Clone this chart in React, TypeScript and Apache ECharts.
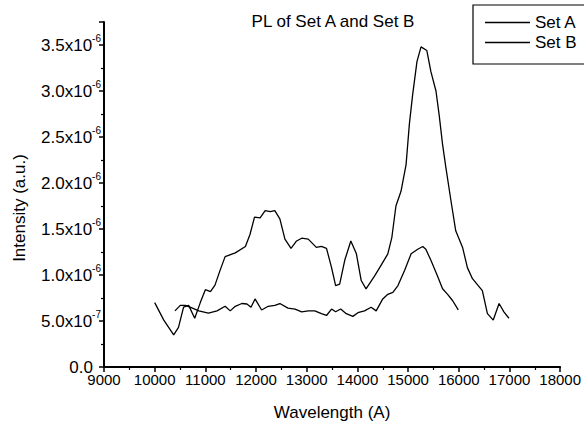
import React, { useEffect, useRef } from "react";
import * as echarts from "echarts";

const setAWavelength = [
  10000, 10180, 10375, 10470, 10570, 10670, 10790, 10900, 11000, 11100, 11190, 11290, 11390, 11590,
  11790, 11880, 11970, 12080, 12180, 12280, 12370, 12470, 12570, 12690, 12800, 12900, 13030, 13190,
  13290, 13390, 13490, 13570, 13650, 13750, 13870, 13980, 14075, 14170, 14340, 14460, 14600, 14680,
  14760, 14860, 14960, 15025, 15090, 15175, 15255, 15370, 15450, 15550, 15615, 15680, 15745, 15845,
  15940, 16075, 16170, 16270, 16465, 16565, 16680, 16795, 16890, 16990,
];
const setAIntensity = [
  7.0e-7, 5.1e-7, 3.5e-7, 4.3e-7, 6.5e-7, 6.7e-7, 5.3e-7, 7.0e-7, 8.4e-7, 8.2e-7, 8.9e-7, 1.05e-6, 1.2e-6, 1.24e-6,
  1.31e-6, 1.44e-6, 1.63e-6, 1.62e-6, 1.7e-6, 1.69e-6, 1.7e-6, 1.61e-6, 1.39e-6, 1.29e-6, 1.37e-6, 1.4e-6, 1.39e-6, 1.3e-6,
  1.31e-6, 1.29e-6, 1.08e-6, 8.85e-7, 9.0e-7, 1.16e-6, 1.37e-6, 1.23e-6, 9.4e-7, 8.5e-7, 9.9e-7, 1.1e-6, 1.23e-6, 1.41e-6,
  1.75e-6, 1.91e-6, 2.2e-6, 2.64e-6, 2.96e-6, 3.32e-6, 3.48e-6, 3.44e-6, 3.21e-6, 3.0e-6, 2.73e-6, 2.42e-6, 2.17e-6, 1.81e-6,
  1.48e-6, 1.3e-6, 1.08e-6, 9.6e-7, 8.3e-7, 5.8e-7, 5.1e-7, 6.9e-7, 6.0e-7, 5.3e-7,
];

const setBWavelength = [
  10400, 10505, 10605, 10700, 10870, 11060, 11230, 11390, 11490, 11590, 11720, 11820, 11900, 11980,
  12110, 12240, 12370, 12470, 12630, 12770, 12900, 13030, 13160, 13290, 13390, 13490, 13570, 13670,
  13780, 13910, 14010, 14140, 14270, 14370, 14500, 14600, 14700, 14800, 14930, 15060, 15190, 15290,
  15350, 15450, 15580, 15680, 15780, 15880, 15990,
];
const setBIntensity = [
  6.1e-7, 6.7e-7, 6.7e-7, 6.5e-7, 6.1e-7, 5.85e-7, 6.1e-7, 6.6e-7, 6.1e-7, 6.6e-7, 6.9e-7, 6.85e-7, 6.5e-7, 7.4e-7,
  6.2e-7, 6.6e-7, 6.7e-7, 6.9e-7, 6.4e-7, 6.3e-7, 6.0e-7, 6.1e-7, 6.1e-7, 5.8e-7, 5.6e-7, 6.3e-7, 6.0e-7, 6.3e-7,
  5.8e-7, 5.5e-7, 5.9e-7, 6.1e-7, 6.5e-7, 6.1e-7, 7.4e-7, 7.9e-7, 8.1e-7, 8.85e-7, 1.05e-6, 1.23e-6, 1.28e-6, 1.31e-6,
  1.28e-6, 1.16e-6, 9.9e-7, 8.5e-7, 7.9e-7, 7.2e-7, 6.2e-7,
];

const seriesNames = ["Set A", "Set B"];
const titleText = "PL of Set A and Set B";
const xAxisName = "Wavelength (A)";
const yAxisName = "Intensity (a.u.)";

const FONT = "'Liberation Sans', Arial, Helvetica, sans-serif";

function yLabel(v: number): string {
  if (v === 0) return "{a|0.0}{p| }";
  const step = 5e-7;
  if (Math.abs(v / step - Math.round(v / step)) > 1e-6) return "";
  const exp = Math.floor(Math.log10(v) + 1e-9);
  const mant = v / Math.pow(10, exp);
  return `{a|${mant.toFixed(1)}x10}{s|${exp}}`;
}

export default function App() {
  const ref = useRef<HTMLDivElement>(null);
  useEffect(() => {
    const chart = echarts.init(ref.current!, null, { renderer: "svg" });
    const dataA = setAWavelength.map((w, i) => [w, setAIntensity[i]]);
    const dataB = setBWavelength.map((w, i) => [w, setBIntensity[i]]);
    chart.setOption({
      animation: false,
      backgroundColor: "#fff",
      textStyle: { fontFamily: FONT, color: "#000" },
      title: {
        text: titleText,
        left: 333,
        top: 13,
        padding: 0,
        textAlign: "center",
        textStyle: { fontSize: 17, fontWeight: "normal", color: "#000", fontFamily: FONT },
      },
      legend: {
        data: seriesNames,
        orient: "vertical",
        left: 485,
        top: 14,
        padding: 0,
        itemGap: 3,
        itemWidth: 45,
        itemHeight: 1.5,
        icon: "rect",
        itemStyle: { color: "#000" },
        textStyle: { fontSize: 17, color: "#000", fontFamily: FONT, lineHeight: 17 },
      },
      grid: { left: 104, right: 21, top: 22, height: 348 },
      xAxis: {
        type: "value",
        min: 9000,
        max: 18000,
        interval: 1000,
        name: xAxisName,
        nameLocation: "middle",
        nameGap: 37,
        nameTextStyle: { fontSize: 17, color: "#000", fontFamily: FONT },
        axisLine: { lineStyle: { color: "#000", width: 2 } },
        axisTick: { length: 5, lineStyle: { color: "#000", width: 1.5 } },
        minorTick: { show: true, splitNumber: 2, length: 3, lineStyle: { color: "#000", width: 1.2 } },
        splitLine: { show: false },
        axisLabel: {
          fontSize: 15,
          lineHeight: 12,
          color: "#000",
          margin: 6,
          fontFamily: FONT,
          formatter: (v: number) => String(v),
        },
      },
      yAxis: {
        type: "value",
        min: 0,
        max: 3.75e-6,
        interval: 5e-7,
        axisLine: { show: true, lineStyle: { color: "#000", width: 2 } },
        axisTick: { show: true, length: 5, lineStyle: { color: "#000", width: 1.5 } },
        minorTick: { show: true, splitNumber: 2, length: 3, lineStyle: { color: "#000", width: 1.2 } },
        splitLine: { show: false },
        axisLabel: {
          margin: 3,
          color: "#000",
          formatter: (v: number) => yLabel(v),
          rich: {
            a: { fontSize: 17, color: "#000", fontFamily: FONT, lineHeight: 12, verticalAlign: "middle" },
            s: { fontSize: 10, color: "#000", fontFamily: FONT, lineHeight: 8, verticalAlign: "top", padding: [-6, 0, 0, 0] },
            p: { fontSize: 10, width: 8, lineHeight: 8 },
          },
        },
      },
      graphic: [
        {
          type: "rect",
          shape: { x: 473, y: 5, width: 130, height: 59 },
          style: { fill: "none", stroke: "#000", lineWidth: 1.2 },
          z: 10,
        },
        {
          type: "text",
          x: 19,
          y: 208,
          rotation: Math.PI / 2,
          style: {
            text: yAxisName,
            fontSize: 17,
            fontFamily: FONT,
            fill: "#000",
            textAlign: "center",
            textVerticalAlign: "middle",
          },
        },
      ],
      series: [
        {
          name: seriesNames[0],
          type: "line",
          data: dataA,
          symbol: "none",
          color: "#000",
          lineStyle: { color: "#000", width: 1.3 },
        },
        {
          name: seriesNames[1],
          type: "line",
          data: dataB,
          symbol: "none",
          color: "#000",
          lineStyle: { color: "#000", width: 1.3 },
        },
      ],
    });
    return () => chart.dispose();
  }, []);
  return <div ref={ref} style={{ position: "absolute", left: 0, top: 0, width: 584, height: 426 }} />;
}
